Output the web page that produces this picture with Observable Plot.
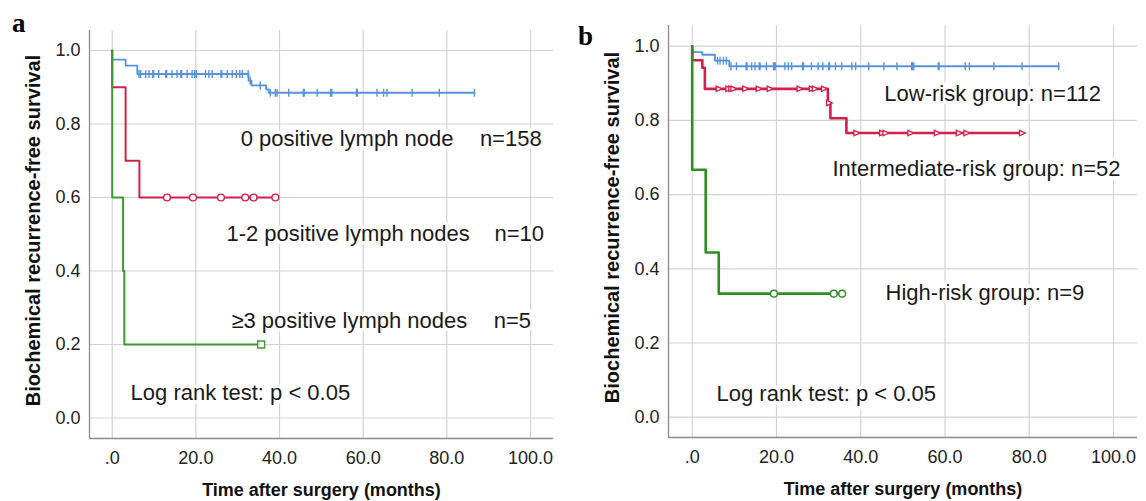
<!DOCTYPE html>
<html>
<head>
<meta charset="utf-8">
<script src="https://cdn.jsdelivr.net/npm/d3@7"></script>
<script src="https://cdn.jsdelivr.net/npm/@observablehq/plot@0.6"></script>
<style>
  html, body { margin: 0; padding: 0; background: #fff; }
  #wrap { position: relative; width: 1146px; height: 501px; overflow: hidden; background: #fff; }
  .panel { position: absolute; top: 0; }
  .plabel { position: absolute; font-family: "Liberation Serif", "Times New Roman", serif; font-weight: bold; font-size: 27px; line-height: 27px; color: #000; }
</style>
</head>
<body>
<div id="wrap">
  <div class="plabel" style="left:12px; top:10px;">a</div>
  <div class="plabel" style="left:578px; top:23px;">b</div>
  <div id="pa" class="panel" style="left:0px;"></div>
  <div id="pb" class="panel" style="left:573px;"></div>
</div>
<script>
// ---------- axis ticks ----------
const xTicks = [0, 20, 40, 60, 80, 100];
const xTickLabels = [".0", "20.0", "40.0", "60.0", "80.0", "100.0"];
const yTicks = [0, 0.2, 0.4, 0.6, 0.8, 1.0];
const yTickLabels = ["0.0", "0.2", "0.4", "0.6", "0.8", "1.0"];
const xTitle = "Time after surgery (months)";
const yTitle = "Biochemical recurrence-free survival";

// ---------- panel a: lymph node groups ----------
const aGroups = ["0 positive lymph node", "1-2 positive lymph nodes", "≥3 positive lymph nodes"];
const aCounts = ["n=158", "n=10", "n=5"];
// step change points (time, survival)
const aBlueT = [0, 0, 3.2, 6.0, 32.6, 33.3, 36.8, 37.4, 86.6];
const aBlueS = [1, 0.975, 0.959, 0.936, 0.918, 0.905, 0.894, 0.885, 0.885];
const aRedT = [0, 0, 3.2, 6.5, 39.0];
const aRedS = [1, 0.9, 0.7, 0.6, 0.6];
const aGreenT = [0, 0, 2.6, 2.9, 35.6];
const aGreenS = [1, 0.6, 0.4, 0.2, 0.2];
// censored times
const aBlueCens = [6.4, 6.8, 8.0, 8.8, 9.7, 9.9, 11.1, 12.8, 13.0, 14.3, 15.5, 16.4, 16.6, 17.9, 19.1, 19.7, 20.1,
  22.3, 23.1, 23.9, 26.0, 26.2, 27.5, 28.7, 29.7, 30.5, 31.1, 32.5, 33.0, 35.4, 37.8, 39.0, 39.4, 42.2,
  45.7, 45.9, 49.0, 52.2, 52.5, 58.4, 58.6, 63.3, 64.9, 65.7, 71.7, 78.2, 86.6];
const aRedCens = [13.1, 19.3, 26.0, 31.8, 33.8, 39.0];
const aGreenCens = [35.6];

// ---------- panel b: risk groups ----------
const bGroups = ["Low-risk group: n=112", "Intermediate-risk group: n=52", "High-risk group: n=9"];
const bBlueT = [0, 0, 2.4, 5.4, 8.8, 87.0];
const bBlueS = [1, 0.984, 0.977, 0.961, 0.946, 0.946];
const bRedT = [0, 0, 2.4, 3.0, 32.2, 32.8, 36.6, 78.3];
const bRedS = [1, 0.962, 0.942, 0.885, 0.847, 0.806, 0.766, 0.766];
const bGreenT = [0, 0, 3.2, 6.3, 35.6];
const bGreenS = [1, 0.667, 0.444, 0.333, 0.333];
const bBlueCens = [6.0, 6.6, 7.4, 8.1, 9.2, 10.5, 12.8, 13.0, 14.1, 14.9, 15.9, 16.1, 17.6, 19.3, 19.5, 19.7,
  22.0, 22.8, 23.6, 26.2, 26.4, 28.3, 29.9, 31.0, 32.4, 32.6, 34.0, 35.5, 37.9, 38.8, 41.9, 45.5, 48.6,
  52.1, 52.3, 52.6, 58.4, 58.6, 64.8, 65.8, 71.6, 78.3, 87.0];
const bRedCens = [6.3, 8.6, 9.3, 9.8, 12.6, 15.8, 18.4, 25.5, 28.4, 29.1, 31.3, 32.5, 39.0, 45.1, 45.9, 51.8,
  58.1, 63.3, 65.1, 78.3];
const bGreenCens = [19.4, 33.6, 35.6];

const logRank = "Log rank test: p < 0.05";

// ---------- helpers ----------
function steps(T, S) { return T.map((t, i) => ({t, s: S[i]})); }
function survAt(T, S, t) { let v = S[0]; for (let i = 0; i < T.length; i++) if (T[i] <= t) v = S[i]; return v; }
function cens(T, S, C) { return C.map(t => ({t, s: survAt(T, S, t)})); }

const vtick = { draw(ctx, size) { const r = Math.sqrt(size / Math.PI); ctx.moveTo(0, -r); ctx.lineTo(0, r); } };
const rtri = { draw(ctx, size) { const r = Math.sqrt(size / Math.PI); ctx.moveTo(r, 0); ctx.lineTo(-r * 0.8, -r * 0.85); ctx.lineTo(-r * 0.8, r * 0.85); ctx.closePath(); } };

const FONT = '"Liberation Sans", Arial, sans-serif';
const BLUE = "#5593dc", RED = "#d2204a", GREEN = "#3c9a30", GREEN_B = "#2f8f24";
const GRID = "#d3d3d3", AXIS = "#8a8a8a", TXT = "#1a1a1a";

function baseMarks(xd, yd) {
  return [
    Plot.gridY(yTicks, {stroke: GRID, strokeOpacity: 1, strokeWidth: 1.2}),
    Plot.gridX(xTicks, {stroke: GRID, strokeOpacity: 1, strokeWidth: 1.2}),
    Plot.ruleX([xd[0]], {stroke: AXIS, strokeWidth: 1.3}),
    Plot.ruleY([yd[0]], {stroke: AXIS, strokeWidth: 1.3}),
    Plot.axisX(xTicks, {tickSize: 0, tickPadding: 13, fontSize: 18, fill: "#222", label: null,
      tickFormat: d => xTickLabels[xTicks.indexOf(d)]}),
    Plot.axisY(yTicks, {tickSize: 0, tickPadding: 9, fontSize: 18, fill: "#222", label: null,
      tickFormat: d => yTickLabels[yTicks.indexOf(d)]}),
    Plot.text([xTitle], {frameAnchor: "bottom", dy: 52, textAnchor: "middle", lineAnchor: "middle", fontSize: 18, fontWeight: "bold", fill: "#111"}),
    Plot.text([yTitle], {frameAnchor: "left", dx: -56, dy: -4, rotate: -90, textAnchor: "middle", lineAnchor: "middle", fontSize: 20, fontWeight: "bold", fill: "#111"})
  ];
}

function ann(data, opts) {
  return Plot.text(data, Object.assign({x: "x", y: "y", text: "text", textAnchor: "start", lineAnchor: "middle",
    fontSize: 22, fill: TXT, stroke: "white", strokeWidth: 7}, opts));
}

// ---------- panel a ----------
const xdA = [-5.43, 105.5], ydA = [-0.0558, 1.0544];
const plotA = Plot.plot({
  width: 573, height: 501,
  marginLeft: 89, marginRight: 20, marginTop: 30, marginBottom: 63,
  x: {domain: xdA, axis: null},
  y: {domain: ydA, axis: null},
  style: {fontFamily: FONT, background: "transparent", overflow: "visible"},
  marks: [
    ...baseMarks(xdA, ydA),
    ann([
      {x: 30.7, y: 0.7605, text: aGroups[0]}, {x: 87.9, y: 0.7605, text: aCounts[0]},
      {x: 27.3, y: 0.502, text: aGroups[1]}, {x: 91.4, y: 0.502, text: aCounts[1]},
      {x: 28.5, y: 0.265, text: aGroups[2]}, {x: 91.2, y: 0.265, text: aCounts[2]},
      {x: 4.4, y: 0.067, text: logRank}
    ]),
    Plot.line(steps(aBlueT, aBlueS), {x: "t", y: "s", curve: "step-after", stroke: BLUE, strokeWidth: 1.8}),
    Plot.line(steps(aRedT, aRedS), {x: "t", y: "s", curve: "step-after", stroke: RED, strokeWidth: 2}),
    Plot.line(steps(aGreenT, aGreenS), {x: "t", y: "s", curve: "step-after", stroke: GREEN, strokeWidth: 2}),
    Plot.dot(cens(aBlueT, aBlueS, aBlueCens), {x: "t", y: "s", symbol: vtick, r: 4, stroke: BLUE, strokeWidth: 1.4, fill: "none"}),
    Plot.dot(cens(aRedT, aRedS, aRedCens), {x: "t", y: "s", symbol: "circle", r: 3.4, stroke: RED, strokeWidth: 1.4, fill: "white"}),
    Plot.dot(cens(aGreenT, aGreenS, aGreenCens), {x: "t", y: "s", symbol: "square", r: 3.9, stroke: GREEN, strokeWidth: 1.4, fill: "white"})
  ]
});
document.getElementById("pa").appendChild(plotA);

// ---------- panel b ----------
const xdB = [-5.63, 105.7], ydB = [-0.0547, 1.0558];
const plotB = Plot.plot({
  width: 573, height: 501,
  marginLeft: 95, marginRight: 9, marginTop: 25, marginBottom: 64,
  x: {domain: xdB, axis: null},
  y: {domain: ydB, axis: null},
  style: {fontFamily: FONT, background: "transparent", overflow: "visible"},
  marks: [
    ...baseMarks(xdB, ydB),
    ann([
      {x: 45.6, y: 0.870, text: bGroups[0]},
      {x: 33.3, y: 0.668, text: bGroups[1]},
      {x: 45.9, y: 0.336, text: bGroups[2]},
      {x: 5.77, y: 0.064, text: logRank}
    ]),
    Plot.line(steps(bBlueT, bBlueS), {x: "t", y: "s", curve: "step-after", stroke: BLUE, strokeWidth: 1.8}),
    Plot.line(steps(bRedT, bRedS), {x: "t", y: "s", curve: "step-after", stroke: RED, strokeWidth: 2.6}),
    Plot.line(steps(bGreenT, bGreenS), {x: "t", y: "s", curve: "step-after", stroke: GREEN_B, strokeWidth: 2.6}),
    Plot.dot(cens(bBlueT, bBlueS, bBlueCens), {x: "t", y: "s", symbol: vtick, r: 4, stroke: BLUE, strokeWidth: 1.4, fill: "none"}),
    Plot.dot(cens(bRedT, bRedS, bRedCens), {x: "t", y: "s", symbol: rtri, r: 3.2, stroke: RED, strokeWidth: 1.3, fill: "white"}),
    Plot.dot(cens(bGreenT, bGreenS, bGreenCens), {x: "t", y: "s", symbol: "circle", r: 3.4, stroke: GREEN_B, strokeWidth: 1.4, fill: "white"})
  ]
});
document.getElementById("pb").appendChild(plotB);
</script>
</body>
</html>
